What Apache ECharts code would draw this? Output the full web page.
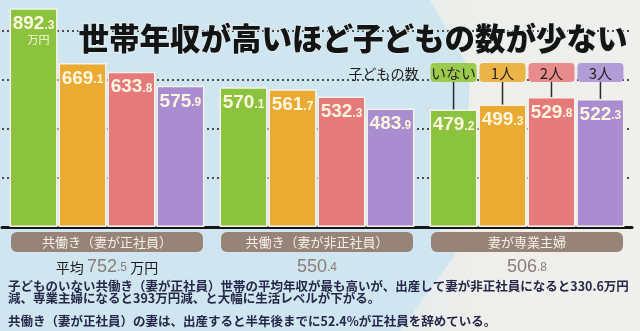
<!DOCTYPE html>
<html><head><meta charset="utf-8">
<script src="https://cdn.jsdelivr.net/npm/echarts@6/dist/echarts.min.js"></script>
<style>html,body{margin:0;padding:0;background:#cfe5f0;}#c{width:640px;height:331px;}</style>
</head><body><div id="c"></div>
<script>
// ---- data ----
const groups = ['共働き（妻が正社員）', '共働き（妻が非正社員）', '妻が専業主婦'];
const childCounts = ['いない', '1人', '2人', '3人'];
const incomeNoChild = [892.3, 570.1, 479.2];
const incomeOneChild = [669.1, 561.7, 499.3];
const incomeTwoChildren = [633.8, 532.3, 529.8];
const incomeThreeChildren = [575.9, 483.9, 522.3];
const groupAverage = [752.5, 550.4, 506.8];
const gridValues = [0, 200, 400, 600, 800];
const valueUnit = '万円';
const avgPrefix = '平均';
const legendCaption = '子どもの数';
const titleText = '世帯年収が高いほど子どもの数が少ない';
const noteLines = [
  '子どものいない共働き（妻が正社員）世帯の平均年収が最も高いが、出産して妻が非正社員になると330.6万円',
  '減、専業主婦になると393万円減、と大幅に生活レベルが下がる。',
  '共働き（妻が正社員）の妻は、出産すると半年後までに52.4%が正社員を辞めている。'
];

// ---- styles ----
const barColors = ['#8cc33e', '#ebaa31', '#e67a7b', '#a98dd0'];
const legendColors = ['#9acb4c', '#ebb447', '#e88b8c', '#b29cd8'];
const seriesValues = [incomeNoChild, incomeOneChild, incomeTwoChildren, incomeThreeChildren];
const numFont = '"Liberation Sans", Arial, sans-serif';
const cjk = '"Noto Sans CJK JP", sans-serif';

function splitNum(v) { const s = v.toFixed(1).split('.'); return [s[0], s[1]]; }

const chart = echarts.init(document.getElementById('c'));
const option = {
  backgroundColor: 'transparent',
  animation: false,
  grid: { left: 2, right: 8, top: 0, bottom: 104, containLabel: false },
  xAxis: {
    type: 'category', data: groups,
    axisTick: { show: false },
    axisLine: { lineStyle: { color: '#151515', width: 3 } },
    axisLabel: {
      interval: 0, margin: 5,
      formatter: function (v, idx) {
        const [i, d] = splitNum(groupAverage[idx]);
        const num = '{num|' + i + '}{dec|.' + d + '}';
        const line2 = idx === 0 ? '{pre|' + avgPrefix + ' }' + num + '{unit| ' + valueUnit + '}' : num;
        return '{box|' + v + '}\n' + line2;
      },
      rich: {
        box: { width: 192, height: 20, lineHeight: 20, backgroundColor: '#978377', borderRadius: 6,
               color: '#f7f0ea', fontSize: 13, fontFamily: cjk, align: 'center' },
        pre: { fontSize: 14, color: '#1c1c1c', fontFamily: cjk, lineHeight: 24, verticalAlign: 'bottom', padding: [0, 0, 1, 0] },
        num: { fontSize: 18, color: '#8a7e77', fontFamily: numFont, lineHeight: 24, verticalAlign: 'bottom' },
        dec: { fontSize: 12, color: '#8a7e77', fontFamily: numFont, lineHeight: 24, verticalAlign: 'bottom', padding: [0, 0, 2, 0] },
        unit: { fontSize: 14, color: '#1c1c1c', fontFamily: cjk, lineHeight: 24, verticalAlign: 'bottom', padding: [0, 0, 1, 0] }
      }
    }
  },
  yAxis: {
    type: 'value', min: gridValues[0], max: 926, interval: gridValues[1] - gridValues[0],
    axisLabel: { show: false }, axisLine: { show: false }, axisTick: { show: false },
    splitLine: { show: true, showMaxLine: false, lineStyle: { color: '#4d4d4d', width: 2, type: [2, 3] } }
  },
  series: seriesValues.map((vals, si) => ({
    type: 'bar', name: childCounts[si], data: vals,
    barWidth: 48, barGap: '2%',
    itemStyle: { color: barColors[si], borderColor: '#f5f2ea', borderWidth: 1.5 },
    label: {
      show: true, position: 'insideTop', distance: 5,
      formatter: function (p) {
        const [i, d] = splitNum(p.value);
        let s = '{a|' + i + '}{b|.' + d + '}';
        if (si === 0 && p.dataIndex === 0) s += '\n{u|' + valueUnit + '}';
        return s;
      },
      rich: {
        a: { fontSize: 19, fontWeight: 'bold', color: '#fff7df', fontFamily: numFont, lineHeight: 20, verticalAlign: 'bottom' },
        b: { fontSize: 12, fontWeight: 'bold', color: '#fff7df', fontFamily: numFont, lineHeight: 20, verticalAlign: 'bottom', padding: [0, 0, 2, 0] },
        u: { fontSize: 11, color: '#fff7df', fontFamily: cjk, lineHeight: 14, align: 'right', padding: [0, 5, 0, 0] }
      }
    }
  }))
};
chart.setOption(option);

// ---- annotations positioned from the library's bar layout ----
const els = [];
els.push({ type: 'polygon', z: -100, silent: true,
  shape: { points: [[430, 0], [640, 0], [640, 331], [400, 331], [455, 255], [440, 232], [468, 120], [470, 70]] },
  style: { fill: new echarts.graphic.LinearGradient(0, 0, 1, 0, [{ offset: 0, color: '#e6ecec' }, { offset: 0.3, color: '#eeeeeb' }, { offset: 1, color: '#efefec' }]) } });

els.push({ type: 'text', z: 50, x: 353, y: 38,
  style: { text: titleText, fontSize: 30.5, fontWeight: 900, fontFamily: cjk, fill: '#141414',
           align: 'center', verticalAlign: 'middle', stroke: 'rgba(225,238,242,0.9)', lineWidth: 2 } });

const model = chart.getModel();
let firstBoxLeft = 430;
for (let si = 0; si < 4; si++) {
  const data = model.getSeriesByIndex(si).getData();
  const lay = data.getItemLayout(2);
  const left = lay.x, w = lay.width;
  const top = Math.min(lay.y, lay.y + lay.height);
  const cx = left + w / 2;
  if (si === 0) firstBoxLeft = left;
  els.push({ type: 'line', z: 40, shape: { x1: cx, y1: 81, x2: cx, y2: top }, style: { stroke: '#2a2a2a', lineWidth: 1.5 } });
  els.push({ type: 'rect', z: 41, shape: { x: left + 1, y: 63, width: w - 2, height: 19, r: 4 }, style: { fill: legendColors[si] } });
  els.push({ type: 'text', z: 42, x: cx, y: 73,
    style: { text: childCounts[si], fontSize: 15, fontFamily: cjk, fill: '#2b2424', align: 'center', verticalAlign: 'middle' } });
}
els.push({ type: 'text', z: 42, x: firstBoxLeft - 11, y: 74,
  style: { text: legendCaption, fontSize: 14, fontFamily: cjk, fill: '#1e1e1e', align: 'right', verticalAlign: 'middle' } });

const noteY = [286, 298, 321];
noteLines.forEach((t, k) => {
  els.push({ type: 'text', z: 42, x: 8, y: noteY[k],
    style: { text: t, fontSize: 12.5, fontWeight: 'bold', fontFamily: cjk, fill: '#26284a', align: 'left', verticalAlign: 'middle' } });
});

chart.setOption({ graphic: { elements: els } });
</script></body></html>
